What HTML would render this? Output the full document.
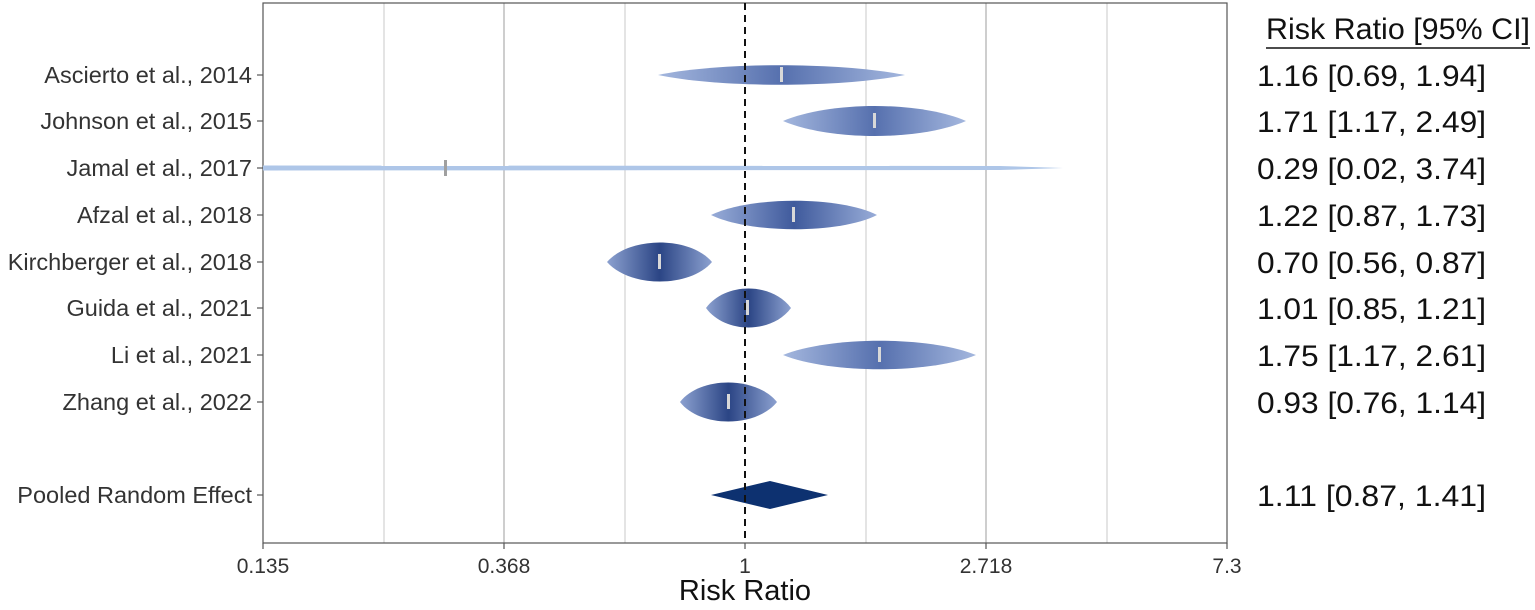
<!DOCTYPE html>
<html><head><meta charset="utf-8"><style>
body{margin:0;background:#fff;}
svg text{font-family:"Liberation Sans",sans-serif;}
</style></head><body>
<svg width="1535" height="605" viewBox="0 0 1535 605" xmlns="http://www.w3.org/2000/svg">
<defs>
<linearGradient id="gA" x1="0" x2="1"><stop offset="0" stop-color="#a4b7de"/><stop offset="0.5" stop-color="#5670ae"/><stop offset="1" stop-color="#a4b7de"/></linearGradient>
<linearGradient id="gB" x1="0" x2="1"><stop offset="0" stop-color="#98acd8"/><stop offset="0.5" stop-color="#3f5a9c"/><stop offset="1" stop-color="#98acd8"/></linearGradient>
<linearGradient id="gC" x1="0" x2="1"><stop offset="0" stop-color="#8ca1d0"/><stop offset="0.5" stop-color="#2b4585"/><stop offset="1" stop-color="#8ca1d0"/></linearGradient>
</defs>
<rect x="0" y="0" width="1535" height="605" fill="#fff"/>
<g stroke="#dcdcdc" stroke-width="1.5">
<line x1="384" y1="3" x2="384" y2="543"/><line x1="625" y1="3" x2="625" y2="543"/>
<line x1="866" y1="3" x2="866" y2="543"/><line x1="1107" y1="3" x2="1107" y2="543"/>
</g>
<g stroke="#bdbdbd" stroke-width="1.5">
<line x1="504" y1="3" x2="504" y2="543"/><line x1="986" y1="3" x2="986" y2="543"/>
</g>
<rect x="263" y="3" width="964" height="540" fill="none" stroke="#555" stroke-width="1.2"/>
<path d="M658,75 C720,62 840,62 905,75 C840,88 720,88 658,75Z" fill="url(#gA)"/>
<path d="M783,121 C830,101 920,101 966,121 C920,141 830,141 783,121Z" fill="url(#gA)"/>
<path d="M263,165.5 L1000,166 L1063,168 L1000,170 L263,170.5Z" fill="#aec6e8"/>
<path d="M711,215 C750,196 840,196 877,215 C840,234 750,234 711,215Z" fill="url(#gB)"/>
<path d="M607,262 C630,236 690,236 712,262 C690,288 630,288 607,262Z" fill="url(#gC)"/>
<path d="M706,308 C725,282 772,282 791,308 C772,334 725,334 706,308Z" fill="url(#gC)"/>
<path d="M783,355 C830,336 930,336 976,355 C930,374 830,374 783,355Z" fill="url(#gA)"/>
<path d="M680,402 C700,376 756,376 777,402 C756,428 700,428 680,402Z" fill="url(#gC)"/>
<polygon points="711,495 770,481 828,495 770,509" fill="#0d3170"/>
<g fill="#d8d8d8">
<rect x="780" y="67" width="3" height="15"/><rect x="873" y="113" width="3" height="15"/>
<rect x="444" y="160" width="3" height="16" fill="#a0a0a0"/>
<rect x="792" y="207" width="3" height="15"/><rect x="658" y="254" width="3" height="15"/>
<rect x="746" y="300" width="3" height="15"/><rect x="878" y="347" width="3" height="15"/>
<rect x="727" y="394" width="3" height="15"/>
</g>
<line x1="745" y1="3" x2="745" y2="543" stroke="#111" stroke-width="2" stroke-dasharray="7,5"/>
<g stroke="#555" stroke-width="1.2">
<line x1="257" y1="75" x2="263" y2="75"/><line x1="257" y1="121" x2="263" y2="121"/><line x1="257" y1="168" x2="263" y2="168"/>
<line x1="257" y1="215" x2="263" y2="215"/><line x1="257" y1="262" x2="263" y2="262"/><line x1="257" y1="308" x2="263" y2="308"/>
<line x1="257" y1="355" x2="263" y2="355"/><line x1="257" y1="402" x2="263" y2="402"/><line x1="257" y1="495" x2="263" y2="495"/>
<line x1="263" y1="543" x2="263" y2="549"/><line x1="504" y1="543" x2="504" y2="549"/><line x1="745" y1="543" x2="745" y2="549"/>
<line x1="986" y1="543" x2="986" y2="549"/><line x1="1227" y1="543" x2="1227" y2="549"/>
</g>
<g font-size="23.5" fill="#333" text-anchor="end">
<text x="252" y="83">Ascierto et al., 2014</text>
<text x="252" y="129">Johnson et al., 2015</text>
<text x="252" y="176">Jamal et al., 2017</text>
<text x="252" y="223">Afzal et al., 2018</text>
<text x="252" y="270">Kirchberger et al., 2018</text>
<text x="252" y="316">Guida et al., 2021</text>
<text x="252" y="363">Li et al., 2021</text>
<text x="252" y="410">Zhang et al., 2022</text>
<text x="252" y="503">Pooled Random Effect</text>
</g>
<g font-size="21" fill="#333" text-anchor="middle">
<text x="263" y="573">0.135</text><text x="504" y="573">0.368</text><text x="745" y="573">1</text>
<text x="986" y="573">2.718</text><text x="1227" y="573">7.3</text>
</g>
<text x="745" y="600" font-size="29" fill="#111" text-anchor="middle">Risk Ratio</text>
<text x="1266" y="39" font-size="30" fill="#111" textLength="264" lengthAdjust="spacingAndGlyphs">Risk Ratio [95% CI]</text>
<g font-size="30" fill="#111">
<text x="1257" y="86" textLength="229" lengthAdjust="spacingAndGlyphs">1.16 [0.69, 1.94]</text>
<text x="1257" y="132" textLength="229" lengthAdjust="spacingAndGlyphs">1.71 [1.17, 2.49]</text>
<text x="1257" y="179" textLength="229" lengthAdjust="spacingAndGlyphs">0.29 [0.02, 3.74]</text>
<text x="1257" y="226" textLength="229" lengthAdjust="spacingAndGlyphs">1.22 [0.87, 1.73]</text>
<text x="1257" y="273" textLength="229" lengthAdjust="spacingAndGlyphs">0.70 [0.56, 0.87]</text>
<text x="1257" y="319" textLength="229" lengthAdjust="spacingAndGlyphs">1.01 [0.85, 1.21]</text>
<text x="1257" y="366" textLength="229" lengthAdjust="spacingAndGlyphs">1.75 [1.17, 2.61]</text>
<text x="1257" y="413" textLength="229" lengthAdjust="spacingAndGlyphs">0.93 [0.76, 1.14]</text>
<text x="1257" y="506" textLength="229" lengthAdjust="spacingAndGlyphs">1.11 [0.87, 1.41]</text>
</g>
<line x1="1266" y1="48" x2="1530" y2="48" stroke="#111" stroke-width="1.5"/>
</svg>
</body></html>
